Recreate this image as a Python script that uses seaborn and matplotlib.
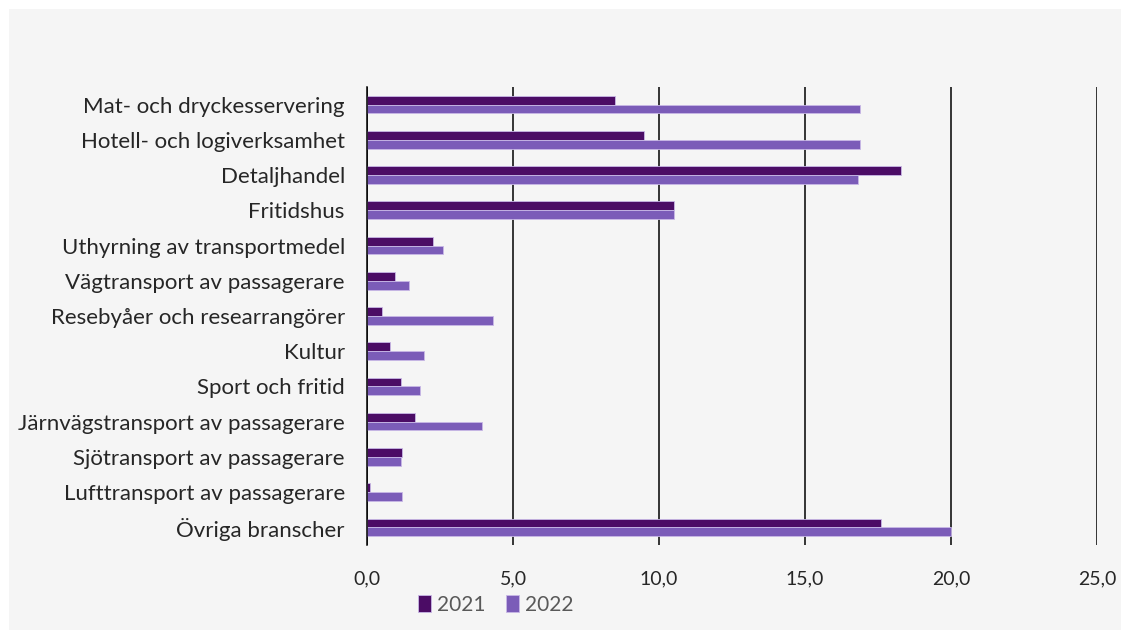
import matplotlib
matplotlib.use("Agg")
import matplotlib.pyplot as plt
import matplotlib.patches as mpatches
import seaborn as sns
import pandas as pd

categories = [
    "Mat- och dryckesservering",
    "Hotell- och logiverksamhet",
    "Detaljhandel",
    "Fritidshus",
    "Uthyrning av transportmedel",
    "Vägtransport av passagerare",
    "Resebyåer och researrangörer",
    "Kultur",
    "Sport och fritid",
    "Järnvägstransport av passagerare",
    "Sjötransport av passagerare",
    "Lufttransport av passagerare",
    "Övriga branscher",
]
values_2021 = [8.5, 9.5, 18.3, 10.5, 2.25, 0.95, 0.5, 0.8, 1.15, 1.65, 1.2, 0.1, 17.6]
values_2022 = [16.9, 16.9, 16.8, 10.5, 2.6, 1.45, 4.3, 1.95, 1.8, 3.95, 1.15, 1.2, 20.0]
years = ["2021", "2022"]
xticks = [0, 5, 10, 15, 20, 25]

df = pd.DataFrame({
    "bransch": categories * 2,
    "andel": values_2021 + values_2022,
    "år": [years[0]] * len(categories) + [years[1]] * len(categories),
})

bg = "#f5f5f5"
colors = ["#4b0c65", "#7b5cb8"]

sns.set_style("white")
plt.rcParams["font.family"] = ["Lato", "DejaVu Sans"]

fig = plt.figure(figsize=(11.21, 6.3), dpi=100, facecolor="white")
fig.patches.append(mpatches.Rectangle((9 / 1121, 0), 1, 1 - 9 / 630,
                                      transform=fig.transFigure, facecolor=bg,
                                      edgecolor="none", zorder=-10))
ax = fig.add_axes([367 / 1121, 85 / 630, 730 / 1121, 458 / 630])
ax.set_facecolor(bg)

sns.barplot(data=df, y="bransch", x="andel", hue="år", palette=colors,
            width=0.5, orient="h", ax=ax, edgecolor="#c8b8e6", linewidth=0.6,
            saturation=1)

ax.set_xlim(0, 25)
ax.set_ylim(12.5, -0.5)
ax.set_xticks(xticks)
ax.set_xticklabels([f"{t:.1f}".replace(".", ",") for t in xticks], fontsize=14)
ax.tick_params(axis="y", labelsize=16, length=0, pad=16)
ax.tick_params(axis="x", length=0, pad=18)
ax.xaxis.grid(True, color="black", linewidth=1.1)
ax.set_axisbelow(True)
for s in ["top", "right", "bottom"]:
    ax.spines[s].set_visible(False)
ax.spines["left"].set_color("black")
ax.spines["left"].set_linewidth(1.1)
ax.set_xlabel("")
ax.set_ylabel("")

leg = ax.legend(loc="center", bbox_to_anchor=(496 / 1121, 0.04),
                bbox_transform=fig.transFigure, ncol=2, frameon=False,
                fontsize=15, handlelength=0.6, handleheight=0.9,
                handletextpad=0.3, columnspacing=1.0)
for t in leg.get_texts():
    t.set_color("#595959")

fig.savefig("out.png", dpi=100, facecolor=fig.get_facecolor())
